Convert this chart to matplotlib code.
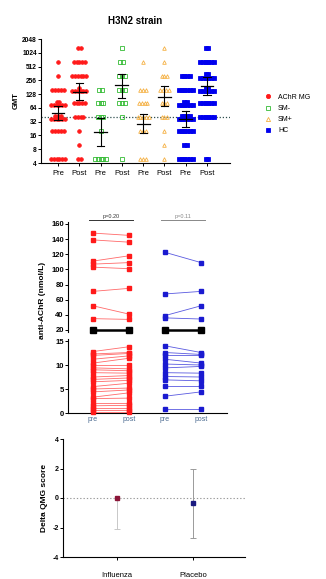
import numpy as np
import matplotlib
matplotlib.use("Agg")
import matplotlib.pyplot as plt
from matplotlib.lines import Line2D

plt.rcParams['font.family'] = ['Liberation Sans', 'DejaVu Sans']

W, H = 326, 579

# ---------------- Panel A data ----------------
levels = [5, 10, 20, 40, 80, 160, 320, 640, 1280]
achr_pre = [6, 0, 5, 9, 8, 5, 1, 1, 0]
achr_post = [2, 1, 1, 4, 5, 7, 6, 5, 2]
smneg_pre = [5, 0, 1, 3, 3, 2, 0, 0, 0]
smneg_post = [1, 0, 0, 1, 3, 3, 3, 2, 1]
smpos_pre = [3, 0, 3, 5, 4, 3, 0, 1, 0]
smpos_post = [1, 1, 1, 3, 3, 4, 3, 1, 1]
hc_pre = [6, 2, 6, 10, 8, 6, 4, 0, 0]
hc_post = [2, 0, 0, 6, 6, 8, 8, 6, 2]
gmt = [50, 145, 19, 204, 28, 113, 37, 190]
ci_lo = [35, 96, 9.5, 104, 18, 70, 24, 120]
ci_hi = [70, 222, 39, 360, 48, 190, 56, 300]
a_xlabels = ["Pre", "Post", "Pre", "Post", "Pre", "Post", "Pre", "Post"]
a_yticks = [4, 8, 16, 32, 64, 128, 256, 512, 1024, 2048]
group_names = ["AChR MG", "SM-", "SM+", "HC"]

# ---------------- Panel B data ----------------
b_xlabels = ["pre", "post", "pre", "post"]
mg_pre = [148, 139, 111, 107, 103, 71, 52, 35,
          12.8, 12.3, 12.0, 11.2, 10.4, 10.0, 9.4, 9.0, 8.4, 7.5, 7.0, 6.5, 5.5,
          5.0, 4.4, 3.3, 3.0, 2.1, 1.5, 1.0, 0.6, 0.3]
mg_post = [145, 136, 118, 109, 101, 75, 41, 34,
           13.8, 12.6, 12.4, 11.9, 11.4, 10.0, 9.2, 8.8, 8.3, 7.8, 7.3, 6.8, 6.2,
           5.2, 4.8, 4.2, 3.1, 2.1, 1.6, 1.0, 0.6, 0.3]
pl_pre = [122.6, 67.6, 39, 36,
          14, 12.6, 12, 11.2, 10.2, 9.4, 8.4, 7.6, 6.9, 5.7, 3.5, 0.8]
pl_post = [109, 71, 52, 34.5,
           12.6, 12.2, 12.0, 10.4, 10.0, 9.7, 8.3, 7.5, 6.7, 5.7, 4.4, 0.8]
ref_line = [20, 20]
p_texts = ["p=0.20", "p=0.11"]
b_upper_ticks = [20, 40, 60, 80, 100, 120, 140, 160]
b_lower_ticks = [0, 5, 10, 15]

# ---------------- Panel C data ----------------
c_cats = ["Influenza", "Placebo"]
c_mean = [0.0, -0.35]
c_lo = [-2.1, -2.7]
c_hi = [0.0, 2.0]
c_yticks = [4, 2, 0, -2, -4]


def rect(l, t, r, b):
    return [l / W, 1 - b / H, (r - l) / W, (b - t) / H]


fig = plt.figure(figsize=(W / 100, H / 100), dpi=100)
fig.patch.set_facecolor('white')

# ============ Panel A ============
axA = fig.add_axes(rect(41, 39, 230, 163))
axA.set_yscale('log', base=2)
axA.set_ylim(4, 2048)
axA.set_xlim(-0.8, 8.08)
for s in ['top', 'right']:
    axA.spines[s].set_visible(False)
for s in ['left', 'bottom']:
    axA.spines[s].set_linewidth(0.8)
axA.set_yticks(a_yticks)
axA.set_yticklabels([str(v) for v in a_yticks], fontsize=4.8, fontweight='bold')
axA.yaxis.set_minor_locator(matplotlib.ticker.NullLocator())
axA.set_xticks(range(8))
axA.set_xticklabels(a_xlabels, fontsize=5.5)
axA.tick_params(length=2, width=0.7, pad=1)
axA.tick_params(axis='x', pad=3)
axA.set_ylabel("GMT", fontsize=5.5, fontweight='bold', labelpad=2)
axA.set_title("H3N2 strain", fontsize=7, fontweight='bold', pad=11)

groups = [achr_pre, achr_post, smneg_pre, smneg_post, smpos_pre, smpos_post, hc_pre, hc_post]
styles = [
    dict(marker='o', color='#ff1a1a', mfc='#ff1a1a'),
    dict(marker='s', color='#33bb33', mfc='none'),
    dict(marker='^', color='#f5b041', mfc='none'),
    dict(marker='s', color='#0000ee', mfc='#0000ee'),
]
for i, counts in enumerate(groups):
    st = styles[i // 2]
    for lev, n in zip(levels, counts):
        if n == 0:
            continue
        per_row = 6
        rows = int(np.ceil(n / per_row))
        k = 0
        for r in range(rows):
            m = min(per_row, n - k)
            offs = (np.arange(m) - (m - 1) / 2) * 0.13
            yv = lev * 2 ** ((r - (rows - 1) / 2) * 0.25) if lev > 5 else lev
            axA.plot(i + offs, [yv] * m, linestyle='none', marker=st['marker'],
                     ms=2.6, mec=st['color'], mfc=st['mfc'], mew=0.6, zorder=3)
            k += m
    axA.plot([i - 0.3, i + 0.3], [gmt[i]] * 2, color='black', lw=0.9, zorder=4)
    axA.plot([i, i], [ci_lo[i], ci_hi[i]], color='black', lw=0.8, zorder=4)
    for y in (ci_lo[i], ci_hi[i]):
        axA.plot([i - 0.17, i + 0.17], [y, y], color='black', lw=0.8, zorder=4)
axA.axhline(40, color='#2f4f4f', lw=0.9, ls=(0, (1, 1.5)), zorder=2)

handles = [Line2D([], [], linestyle='none', marker=st['marker'], ms=3, mec=st['color'],
                  mfc=st['mfc'], mew=0.6) for st in styles]
fig.legend(handles, group_names, loc='upper left', bbox_to_anchor=(262 / W, 1 - 91 / H),
           frameon=False, fontsize=5, handlelength=1.0, handletextpad=0.9,
           labelspacing=0.6, borderaxespad=0)

# ============ Panel B ============
up_lim = (17, 162)
lo_lim = (0, 15.5)
px_up = (330 - 224) / 140.0
top_up = 224 - (162 - 160) * px_up
bot_up = 330 + (20 - 17) * px_up
px_lo = (413 - 341) / 15.0
top_lo = 413 - 15.5 * px_lo
axU = fig.add_axes(rect(68, top_up, 227, bot_up))
axL = fig.add_axes(rect(68, top_lo, 227, 413))
for ax in (axU, axL):
    ax.set_xlim(-0.69, 3.72)
    for s in ['top', 'right']:
        ax.spines[s].set_visible(False)
    ax.spines['left'].set_linewidth(0.8)
    ax.tick_params(length=2, width=0.7, pad=1, labelsize=5.5)
axU.set_ylim(*up_lim)
axL.set_ylim(*lo_lim)
axU.spines['bottom'].set_visible(False)
axU.set_xticks([])
axL.spines['bottom'].set_linewidth(0.8)
axU.set_yticks(b_upper_ticks)
axU.set_yticklabels([str(v) for v in b_upper_ticks], fontweight='bold')
axL.set_yticks(b_lower_ticks)
axL.set_yticklabels([str(v) for v in b_lower_ticks], fontweight='bold')
axL.set_xticks(range(4))
axL.set_xticklabels(b_xlabels, fontsize=5, color='#4a6a90')
axL.tick_params(axis='x', length=0, pad=2)


def draw_pairs(pre, post, x0, color, lcolor):
    for a, b in zip(pre, post):
        ax = axU if (a >= 17 and b >= 17) else axL
        ax.plot([x0, x0 + 1], [a, b], color=lcolor, lw=0.6, zorder=3, clip_on=False)
        ax.plot([x0, x0 + 1], [a, b], linestyle='none', marker='s', ms=2.2,
                mec=color, mfc=color, zorder=4, clip_on=False)


draw_pairs(mg_pre, mg_post, 0, '#ff1a1a', '#ff6a6a')
draw_pairs(pl_pre, pl_post, 2, '#1a1ad0', '#5a5ae0')
for x0 in (0, 2):
    axU.plot([x0, x0 + 1], ref_line, color='black', lw=1.8, marker='s', ms=4.5,
             zorder=5, clip_on=False)

for x0, txt, col in [(0, p_texts[0], '#333333'), (2, p_texts[1], '#888888')]:
    axU.plot([x0 - 0.1, x0 + 1.1], [165, 165], color=col, lw=0.7, clip_on=False)
    axU.text(x0 + 0.5, 167, txt, ha='center', va='bottom', fontsize=4, color=col,
             clip_on=False)

fig.text(42 / W, 1 - 300 / H, "anti-AChR (nmol/L)", rotation=90, ha='center',
         va='center', fontsize=6, fontweight='bold')

# ============ Panel C ============
axC = fig.add_axes(rect(63, 439, 245, 557))
axC.set_ylim(-4, 4)
axC.set_xlim(-0.71, 1.68)
for s in ['top', 'right']:
    axC.spines[s].set_visible(False)
axC.spines['left'].set_linewidth(0.8)
axC.spines['bottom'].set_linewidth(0.8)
axC.set_yticks(c_yticks)
axC.set_yticklabels([str(v) for v in c_yticks], fontsize=5, fontweight='bold')
axC.set_xticks(range(len(c_cats)))
axC.set_xticklabels(c_cats, fontsize=5.5)
axC.tick_params(length=2, width=0.7, pad=9)
axC.tick_params(axis='y', pad=1)
axC.set_ylabel("Delta QMG score", fontsize=6, fontweight='bold', labelpad=3)
axC.axhline(0, color='#999999', lw=0.8, ls=(0, (1.2, 1.8)), zorder=1)
cols = ['#8b1538', '#1a1a80']
ecols = ['#c8c8c8', '#9a9a9a']
for i in range(len(c_cats)):
    axC.errorbar([i], [c_mean[i]],
                 yerr=[[c_mean[i] - c_lo[i]], [c_hi[i] - c_mean[i]]],
                 fmt='s', ms=3.2, color=cols[i], ecolor=ecols[i], elinewidth=0.7,
                 capsize=2, capthick=0.7, zorder=3)

fig.savefig("out.png", dpi=100)
